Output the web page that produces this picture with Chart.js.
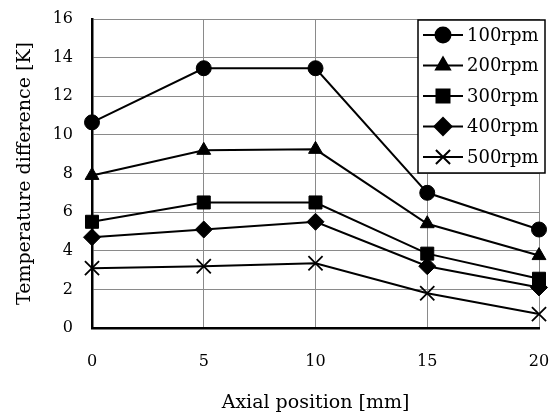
<!DOCTYPE html>
<html>
<head>
<meta charset="utf-8">
<script src="https://cdn.jsdelivr.net/npm/chart.js@4/dist/chart.umd.min.js"></script>
<style>
    html, body { margin: 0; padding: 0; background: #fff; }
    #wrap { width: 560px; height: 416px; }
</style>
</head>
<body>
<div id="wrap"><canvas id="myChart" width="560" height="416"></canvas></div>
<script>
// values
const positions = [0, 5, 10, 15, 20];
const rpm100 = [10.65, 13.45, 13.45, 7.0, 5.1];
const rpm200 = [7.9, 9.2, 9.25, 5.4, 3.75];
const rpm300 = [5.5, 6.5, 6.5, 3.85, 2.55];
const rpm400 = [4.7, 5.1, 5.5, 3.2, 2.1];
const rpm500 = [3.1, 3.2, 3.35, 1.8, 0.72];
const seriesLabels = ['100rpm', '200rpm', '300rpm', '400rpm', '500rpm'];
const xTicks = [0, 5, 10, 15, 20];
const yTicks = [0, 2, 4, 6, 8, 10, 12, 14, 16];

const FONT = "'DejaVu Serif', 'Liberation Serif', serif";
const markers = [
    { style: 'circle', r: 7.5 },
    { style: 'triangle', r: 8 },
    { style: 'rect', r: 9.2 },
    { style: 'rectRot', r: 8.5 },
    { style: 'crossRot', r: 10 },
];

const toPoints = (ys) => ys.map((y, i) => ({ x: positions[i], y: y }));

const datasets = [rpm100, rpm200, rpm300, rpm400, rpm500].map((ys, i) => ({
    label: seriesLabels[i],
    data: toPoints(ys),
    borderColor: '#000',
    backgroundColor: '#000',
    borderWidth: 2,
    pointStyle: markers[i].style,
    pointRadius: markers[i].r,
    pointHoverRadius: markers[i].r,
    pointBorderWidth: markers[i].style === 'crossRot' ? 1.8 : 1,
    pointBackgroundColor: '#000',
    pointBorderColor: '#000',
    tension: 0,
    clip: false,
}));

// legend with a line through each marker, drawn in a box at the top right
const boxLegend = {
    id: 'boxLegend',
    afterDraw(chart) {
        const ctx = chart.ctx;
        const left = 418, top = 20, w = 127, h = 153;
        ctx.save();
        ctx.fillStyle = '#fff';
        ctx.fillRect(left, top, w, h);
        ctx.strokeStyle = '#000';
        ctx.lineWidth = 1.5;
        ctx.strokeRect(left, top, w, h);
        chart.data.datasets.forEach((ds, i) => {
            const y = top + 15 + i * 30.5;
            ctx.strokeStyle = '#000';
            ctx.lineWidth = 2;
            ctx.beginPath();
            ctx.moveTo(left + 5, y);
            ctx.lineTo(left + 45, y);
            ctx.stroke();
            ctx.fillStyle = '#000';
            Chart.helpers.drawPoint(ctx, {
                pointStyle: ds.pointStyle,
                radius: ds.pointRadius,
                rotation: 0,
                borderWidth: ds.pointBorderWidth,
            }, left + 25, y);
            if (ds.pointStyle !== 'crossRot') ctx.fill();
            ctx.fillStyle = '#000';
            ctx.font = "18px " + FONT;
            ctx.textAlign = 'left';
            ctx.textBaseline = 'middle';
            ctx.fillText(ds.label, left + 49, y + 1);
        });
        ctx.restore();
    }
};

const myChart = new Chart(document.getElementById('myChart').getContext('2d'), {
    type: 'line',
    data: { datasets: datasets },
    plugins: [boxLegend],
    options: {
        responsive: false,
        devicePixelRatio: 1,
        animation: false,
        layout: { autoPadding: false, padding: { top: 19, right: 21, left: 0, bottom: 0 } },
        plugins: {
            legend: { display: false },
            tooltip: { enabled: false },
        },
        scales: {
            x: {
                type: 'linear',
                min: 0,
                max: 20,
                afterBuildTicks: (scale) => { scale.ticks = xTicks.map(v => ({ value: v })); },
                afterFit: (scale) => {
                    scale.height = 88;
                    scale.paddingLeft = 0;
                    scale.paddingRight = 0;
                },
                grid: { color: '#8a8a8a', lineWidth: 1, drawTicks: false },
                border: { color: '#000', width: 2.5 },
                ticks: { color: '#000', font: { family: FONT, size: 16 }, padding: 24 },
                title: {
                    display: true,
                    text: 'Axial position [mm]',
                    color: '#000',
                    font: { family: FONT, size: 19 },
                    padding: { top: 0, bottom: 2 },
                },
            },
            y: {
                min: 0,
                max: 16,
                afterBuildTicks: (scale) => { scale.ticks = yTicks.map(v => ({ value: v })); },
                afterFit: (scale) => {
                    scale.width = 92;
                    scale.paddingTop = 0;
                    scale.paddingBottom = 0;
                },
                grid: { color: '#8a8a8a', lineWidth: 1, drawTicks: false },
                border: { color: '#000', width: 2.5 },
                ticks: { color: '#000', font: { family: FONT, size: 16 }, padding: 19 },
                title: {
                    display: true,
                    text: 'Temperature difference [K]',
                    color: '#000',
                    font: { family: FONT, size: 19 },
                    padding: { top: 14, bottom: 0 },
                },
            },
        },
    },
});
</script>
</body>
</html>
